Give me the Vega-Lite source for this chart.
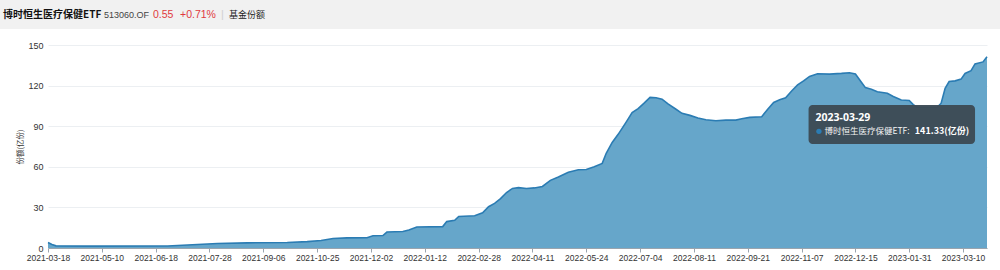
{
  "$schema": "https://vega.github.io/schema/vega-lite/v6.json",
  "width": 939,
  "height": 203,
  "autosize": {"type": "none"},
  "padding": {"left": 48, "top": 45, "right": 13, "bottom": 22},
  "background": "#ffffff",
  "config": {
    "view": {"stroke": null},
    "font": "Liberation Sans",
    "axis": {"labelFont": "Liberation Sans", "titleFont": "Noto Sans CJK SC"}
  },
  "datasets": {
    "shares": [
      {"t": 0, "v": 4.0}, {"t": 2, "v": 2.6}, {"t": 4, "v": 1.6}, {"t": 20, "v": 1.4},
      {"t": 60, "v": 1.5}, {"t": 70, "v": 2.2}, {"t": 80, "v": 3.0}, {"t": 85, "v": 3.3},
      {"t": 100, "v": 3.8}, {"t": 120, "v": 4.1}, {"t": 130, "v": 4.7}, {"t": 137, "v": 5.5},
      {"t": 143, "v": 7.0}, {"t": 150, "v": 7.5}, {"t": 160, "v": 7.6}, {"t": 163, "v": 9.0},
      {"t": 168, "v": 9.2}, {"t": 170, "v": 11.8}, {"t": 178, "v": 12.2}, {"t": 181, "v": 13.3},
      {"t": 185, "v": 15.5}, {"t": 198, "v": 15.8}, {"t": 200, "v": 19.5}, {"t": 204, "v": 20.5},
      {"t": 206, "v": 23.3}, {"t": 214, "v": 23.8}, {"t": 218, "v": 26.0}, {"t": 221, "v": 30.5},
      {"t": 224, "v": 33.0}, {"t": 227, "v": 36.5}, {"t": 230, "v": 41.0}, {"t": 233, "v": 44.0},
      {"t": 236, "v": 44.6}, {"t": 240, "v": 44.0}, {"t": 244, "v": 44.4}, {"t": 248, "v": 45.5},
      {"t": 252, "v": 50.0}, {"t": 256, "v": 52.5}, {"t": 261, "v": 56.0}, {"t": 266, "v": 57.8},
      {"t": 270, "v": 58.0}, {"t": 274, "v": 60.0}, {"t": 278, "v": 62.5}, {"t": 280, "v": 70.0},
      {"t": 283, "v": 78.0}, {"t": 286, "v": 84.0}, {"t": 290, "v": 93.0}, {"t": 293, "v": 100.0},
      {"t": 296, "v": 103.0}, {"t": 299, "v": 107.0}, {"t": 302, "v": 111.3}, {"t": 305, "v": 111.0},
      {"t": 308, "v": 110.0}, {"t": 311, "v": 106.5}, {"t": 315, "v": 102.5}, {"t": 318, "v": 99.5},
      {"t": 322, "v": 98.0}, {"t": 326, "v": 96.0}, {"t": 330, "v": 94.8}, {"t": 335, "v": 94.0},
      {"t": 340, "v": 94.5}, {"t": 345, "v": 94.5}, {"t": 348, "v": 95.5}, {"t": 352, "v": 96.5},
      {"t": 358, "v": 97.0}, {"t": 361, "v": 102.5}, {"t": 364, "v": 107.5}, {"t": 367, "v": 109.5},
      {"t": 370, "v": 111.0}, {"t": 373, "v": 116.0}, {"t": 376, "v": 120.5}, {"t": 379, "v": 123.5},
      {"t": 382, "v": 126.8}, {"t": 386, "v": 128.8}, {"t": 392, "v": 128.5}, {"t": 398, "v": 129.0},
      {"t": 402, "v": 129.5}, {"t": 405, "v": 128.6}, {"t": 408, "v": 122.5}, {"t": 410, "v": 118.5},
      {"t": 413, "v": 117.3}, {"t": 416, "v": 115.5}, {"t": 421, "v": 114.3}, {"t": 424, "v": 112.0},
      {"t": 428, "v": 109.4}, {"t": 432, "v": 109.0}, {"t": 434, "v": 106.0}, {"t": 436, "v": 104.0},
      {"t": 446, "v": 104.0}, {"t": 448, "v": 107.0}, {"t": 450, "v": 118.0}, {"t": 452, "v": 123.0},
      {"t": 455, "v": 123.5}, {"t": 458, "v": 124.8}, {"t": 460, "v": 129.0}, {"t": 463, "v": 131.0},
      {"t": 465, "v": 136.0}, {"t": 469, "v": 137.5}, {"t": 471, "v": 141.33}
    ],
    "tip": [
      {"t": 381.5, "t2": 465, "v": 105.7, "v2": 76.8}
    ],
    "tiptext": [
      {"t": 385, "v": 96.3, "label": "2023-03-29", "kind": "date"},
      {"t": 389.5, "v": 86.2, "label": "博时恒生医疗保健ETF:", "kind": "name"},
      {"t": 462, "v": 86.2, "label": "141.33(亿份)", "kind": "value"}
    ],
    "tipdot": [
      {"t": 386.7, "v": 86.2}
    ]
  },
  "layer": [
    {
      "data": {"values": [{"band": "header"}]},
      "mark": {"type": "rect", "fill": "#f1f1f1", "clip": false},
      "encoding": {
        "x": {"value": -48}, "x2": {"value": 952},
        "y": {"value": -45}, "y2": {"value": -16}
      }
    },
    {
      "data": {"name": "shares"},
      "mark": {"type": "area", "color": "#66a6ca", "opacity": 1, "line": {"color": "#2b7cb3", "strokeWidth": 1.6}},
      "encoding": {
        "x": {
          "field": "t", "type": "quantitative",
          "scale": {"domain": [0, 471], "nice": false, "zero": false},
          "axis": {
            "title": null,
            "values": [0, 27, 54, 81, 108, 135, 162, 189, 216, 243, 270, 297, 324, 351, 378, 405, 432, 459],
            "labelExpr": "['2021-03-18','2021-05-10','2021-06-18','2021-07-28','2021-09-06','2021-10-25','2021-12-02','2022-01-12','2022-02-28','2022-04-11','2022-05-24','2022-07-04','2022-08-11','2022-09-21','2022-11-07','2022-12-15','2023-01-31','2023-03-10'][round(datum.value/27)]",
            "grid": false,
            "domainColor": "#9aa4ae",
            "tickColor": "#9aa4ae",
            "tickSize": 4,
            "labelFontSize": 8.5,
            "labelColor": "#333333",
            "labelPadding": 1,
            "labelFlush": false
          }
        },
        "y": {
          "field": "v", "type": "quantitative",
          "scale": {"domain": [0, 150], "nice": false},
          "axis": {
            "title": "份额(亿份)",
            "titleFontSize": 7.5,
            "titleFontWeight": "normal",
            "titleColor": "#333333",
            "titlePadding": 3,
            "values": [0, 30, 60, 90, 120, 150],
            "grid": true,
            "gridColor": "#eceff2",
            "domain": false,
            "ticks": false,
            "labelFontSize": 9,
            "labelColor": "#333333",
            "labelPadding": 5
          }
        }
      }
    },
    {
      "data": {"name": "tip"},
      "mark": {"type": "rect", "fill": "#3c4a54", "opacity": 0.96, "cornerRadius": 4},
      "encoding": {
        "x": {"field": "t", "type": "quantitative"},
        "x2": {"field": "t2"},
        "y": {"field": "v", "type": "quantitative"},
        "y2": {"field": "v2"}
      }
    },
    {
      "data": {"name": "tipdot"},
      "mark": {"type": "circle", "color": "#2b7cb3", "opacity": 1, "size": 28},
      "encoding": {
        "x": {"field": "t", "type": "quantitative"},
        "y": {"field": "v", "type": "quantitative"}
      }
    },
    {
      "data": {"name": "tiptext"},
      "transform": [{"filter": "datum.kind == 'date'"}],
      "mark": {"type": "text", "align": "left", "baseline": "middle", "color": "#ffffff", "fontSize": 10.5, "fontWeight": "bold", "font": "Noto Sans"},
      "encoding": {
        "x": {"field": "t", "type": "quantitative"},
        "y": {"field": "v", "type": "quantitative"},
        "text": {"field": "label"}
      }
    },
    {
      "data": {"name": "tiptext"},
      "transform": [{"filter": "datum.kind == 'name'"}],
      "mark": {"type": "text", "align": "left", "baseline": "middle", "color": "#f4f4f4", "fontSize": 8.5, "font": "Noto Sans CJK SC"},
      "encoding": {
        "x": {"field": "t", "type": "quantitative"},
        "y": {"field": "v", "type": "quantitative"},
        "text": {"field": "label"}
      }
    },
    {
      "data": {"name": "tiptext"},
      "transform": [{"filter": "datum.kind == 'value'"}],
      "mark": {"type": "text", "align": "right", "baseline": "middle", "color": "#ffffff", "fontSize": 9, "fontWeight": "bold", "font": "Noto Sans CJK SC"},
      "encoding": {
        "x": {"field": "t", "type": "quantitative"},
        "y": {"field": "v", "type": "quantitative"},
        "text": {"field": "label"}
      }
    },
    {
      "data": {"values": [{"label": "博时恒生医疗保健ETF"}]},
      "mark": {"type": "text", "align": "left", "baseline": "middle", "fontSize": 10, "fontWeight": "bold", "color": "#111111", "font": "Noto Sans CJK SC", "clip": false},
      "encoding": {"x": {"value": -45}, "y": {"value": -30}, "text": {"field": "label"}}
    },
    {
      "data": {"values": [{"label": "513060.OF"}]},
      "mark": {"type": "text", "align": "left", "baseline": "middle", "fontSize": 9, "color": "#444444", "font": "Liberation Sans"},
      "encoding": {"x": {"value": 56}, "y": {"value": -30}, "text": {"field": "label"}}
    },
    {
      "data": {"values": [{"label": "0.55"}]},
      "mark": {"type": "text", "align": "left", "baseline": "middle", "fontSize": 10.5, "color": "#e0393e", "font": "Liberation Sans"},
      "encoding": {"x": {"value": 105}, "y": {"value": -30}, "text": {"field": "label"}}
    },
    {
      "data": {"values": [{"label": "+0.71%"}]},
      "mark": {"type": "text", "align": "left", "baseline": "middle", "fontSize": 10.5, "color": "#e0393e", "font": "Liberation Sans"},
      "encoding": {"x": {"value": 132}, "y": {"value": -30}, "text": {"field": "label"}}
    },
    {
      "data": {"values": [{"label": "|"}]},
      "mark": {"type": "text", "align": "left", "baseline": "middle", "fontSize": 11, "color": "#d0d0d0", "font": "Liberation Sans"},
      "encoding": {"x": {"value": 173}, "y": {"value": -30}, "text": {"field": "label"}}
    },
    {
      "data": {"values": [{"label": "基金份额"}]},
      "mark": {"type": "text", "align": "left", "baseline": "middle", "fontSize": 9, "color": "#222222", "font": "Noto Sans CJK SC"},
      "encoding": {"x": {"value": 181}, "y": {"value": -30}, "text": {"field": "label"}}
    }
  ]
}
